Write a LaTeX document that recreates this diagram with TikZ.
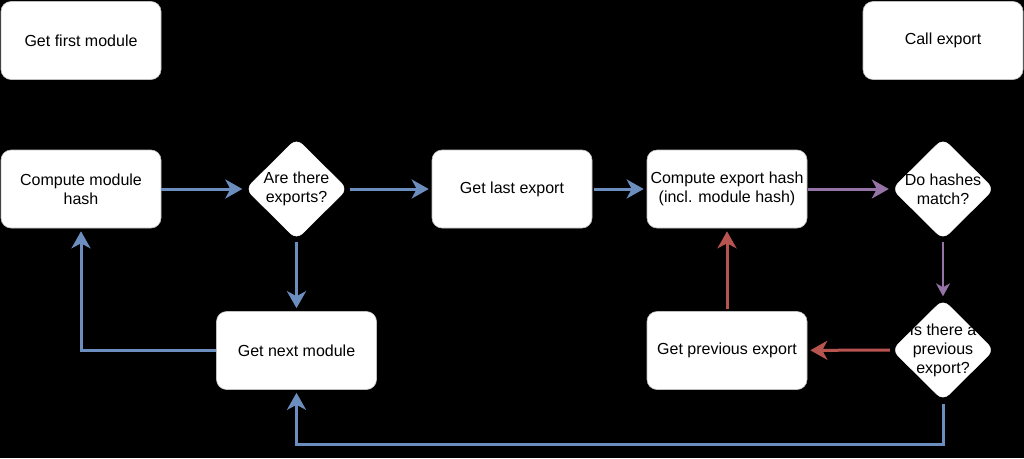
\documentclass[tikz,border=0pt]{standalone}
\usepackage{fontspec}
\setmainfont{Liberation Sans}
\usetikzlibrary{shapes.geometric,arrows.meta}
\definecolor{flowblue}{HTML}{6C8EBF}
\definecolor{flowred}{HTML}{B85450}
\definecolor{flowpurple}{HTML}{9673A6}
\tikzset{
  stepbox/.style={rectangle, rounded corners=10pt, fill=white, draw=gray!50,
    line width=0.6pt, minimum width=160pt, minimum height=78pt, inner sep=0pt,
    align=center, font=\fontsize{16}{19}\selectfont},
  decision/.style={diamond, fill=white, draw=white, rounded corners=8pt,
    minimum width=102pt, minimum height=101pt, inner sep=0pt},
  qtext/.style={align=center, font=\fontsize{16}{19}\selectfont, inner sep=0pt},
  flow/.style={line width=3pt, -{Stealth[length=17pt,width=19pt,inset=5pt]}, shorten >=3pt},
  thinflow/.style={line width=1.3pt, -{Stealth[length=13pt,width=14pt,inset=4pt]}, shorten >=3pt},
}

\begin{document}
\begin{tikzpicture}[x=1pt,y=-1pt]
\fill[black] (0,0) rectangle (1024,458);

% top row
\node[stepbox] (first) at (81,40.5) {Get first module};
\node[stepbox] (call) at (943,40.5) {Call export};

% middle row
\node[stepbox] (cmh) at (81,189) {Compute module\\hash};
\node[decision, label={[qtext]center:Are there\\exports?}] (q1) at (296.5,189) {};
\node[stepbox] (gle) at (512,189) {Get last export};
\node[stepbox] (ceh) at (727,189) {Compute export hash\\(incl. module hash)};
\node[decision, label={[qtext]center:Do hashes\\match?}] (q2) at (943,189) {};

% bottom row
\node[stepbox] (gnm) at (296.5,350.5) {Get next module};
\node[stepbox] (gpe) at (727,350.5) {Get previous export};
\node[decision, label={[qtext]center:Is there a\\previous\\export?}] (q3) at (943,350) {};
\coordinate (loop) at (943,444);

% connectors
\draw[flow, color=flowblue] (cmh) -- (q1);
\draw[flow, color=flowblue, shorten <=2pt] (q1) -- (gle);
\draw[flow, color=flowblue, shorten <=2pt] (gle) -- (ceh);
\draw[flow, color=flowpurple, shorten <=1pt] (ceh) -- (q2);
\draw[thinflow, color=flowpurple, shorten <=2pt] (q2) -- (q3);
\draw[flow, color=flowred, shorten <=2pt] (q3) -- (gpe);
\draw[flow, color=flowred, shorten <=2pt] (gpe) -- (ceh);
\draw[flow, color=flowblue, shorten <=2pt] (q1) -- (gnm);
\draw[flow, color=flowblue] (gnm) -| (cmh);
\draw[flow, color=flowblue, shorten <=3pt] (q3) -- (loop) -| (gnm);
\end{tikzpicture}
\end{document}
